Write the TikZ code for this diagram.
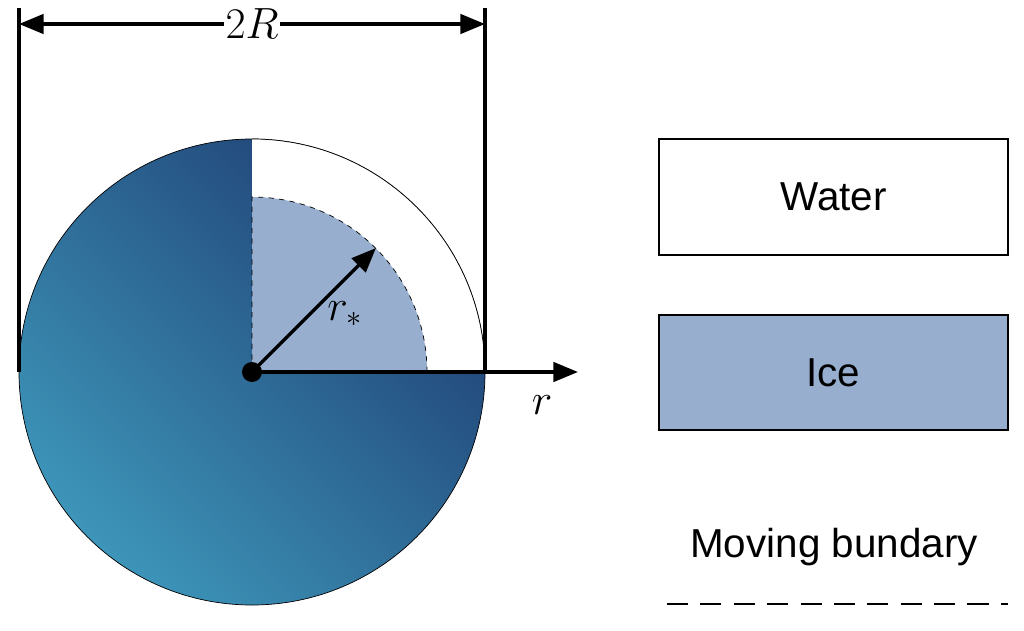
\documentclass[tikz,border=0pt]{standalone}
\usepackage{fontspec}
\newfontfamily\lsans{Liberation Sans}
\usetikzlibrary{arrows.meta}
\definecolor{ice}{HTML}{97AECE}
\definecolor{dk}{HTML}{1F3F73}
\definecolor{lt}{HTML}{3D95B9}
\begin{document}
\begin{tikzpicture}[x=0.02cm,y=0.02cm,
  arr/.style={line width=2pt,-{Triangle[length=14pt,width=11pt]}},
  dim/.style={line width=2pt,{Triangle[length=14pt,width=11pt]}-{Triangle[length=14pt,width=11pt]}},
  lab/.style={font=\lsans\fontsize{23}{27}\selectfont}]
\useasboundingbox (0,0) rectangle (1024,630);
\coordinate (c) at (252,258);
\shade[left color=lt,right color=dk,shading angle=135] (c) -- (252,491) arc[start angle=90,end angle=360,radius=233] -- cycle;
\draw[thin] (c) ++(0,233) arc[start angle=90,end angle=-270,radius=233];
\fill[white] (c) -- (485,258) arc[start angle=0,end angle=90,radius=233] -- cycle;
\draw[thin] (485,258) arc[start angle=0,end angle=90,radius=233];
\fill[ice] (c) -- (427,258) arc[start angle=0,end angle=90,radius=175] -- cycle;
\draw[dashed,thin] (427,258) arc[start angle=0,end angle=90,radius=175] -- (c);
\draw[line width=2pt] (19,258) -- (19,622) (485,258) -- (485,622);
\coordinate (dl) at (19,606); \coordinate (dr) at (485,606);
\draw[dim] (dl) -- (dr);
\node[fill=white,inner sep=1pt,font=\fontsize{23}{27}\selectfont] (tR) at (252,606) {$2R$};
\coordinate (re) at (578,258);
\draw[arr] (c) -- (re);
\node[font=\fontsize{25}{29}\selectfont] (tr) at (542,225) {$r$};
\coordinate (rs) at (376,382);
\draw[arr] (c) -- (rs);
\node[font=\fontsize{25}{29}\selectfont] (trs) at (345,316) {$r_*$};
\fill (c) circle[radius=10];
\node[draw,thick,lab,minimum width=349*0.02cm,minimum height=116*0.02cm] (w) at (833.5,433) {Water};
\node[draw,thick,fill=ice,lab,minimum width=349*0.02cm,minimum height=115*0.02cm] (i) at (833.5,257.5) {Ice};
\node[lab] (mb) at (834,83) {Moving bundary};
\coordinate (m1) at (667,26); \coordinate (m2) at (1008,26);
\draw[line width=1.5pt,dash pattern=on 12pt off 7pt] (m1) -- (m2);
\end{tikzpicture}
\end{document}
